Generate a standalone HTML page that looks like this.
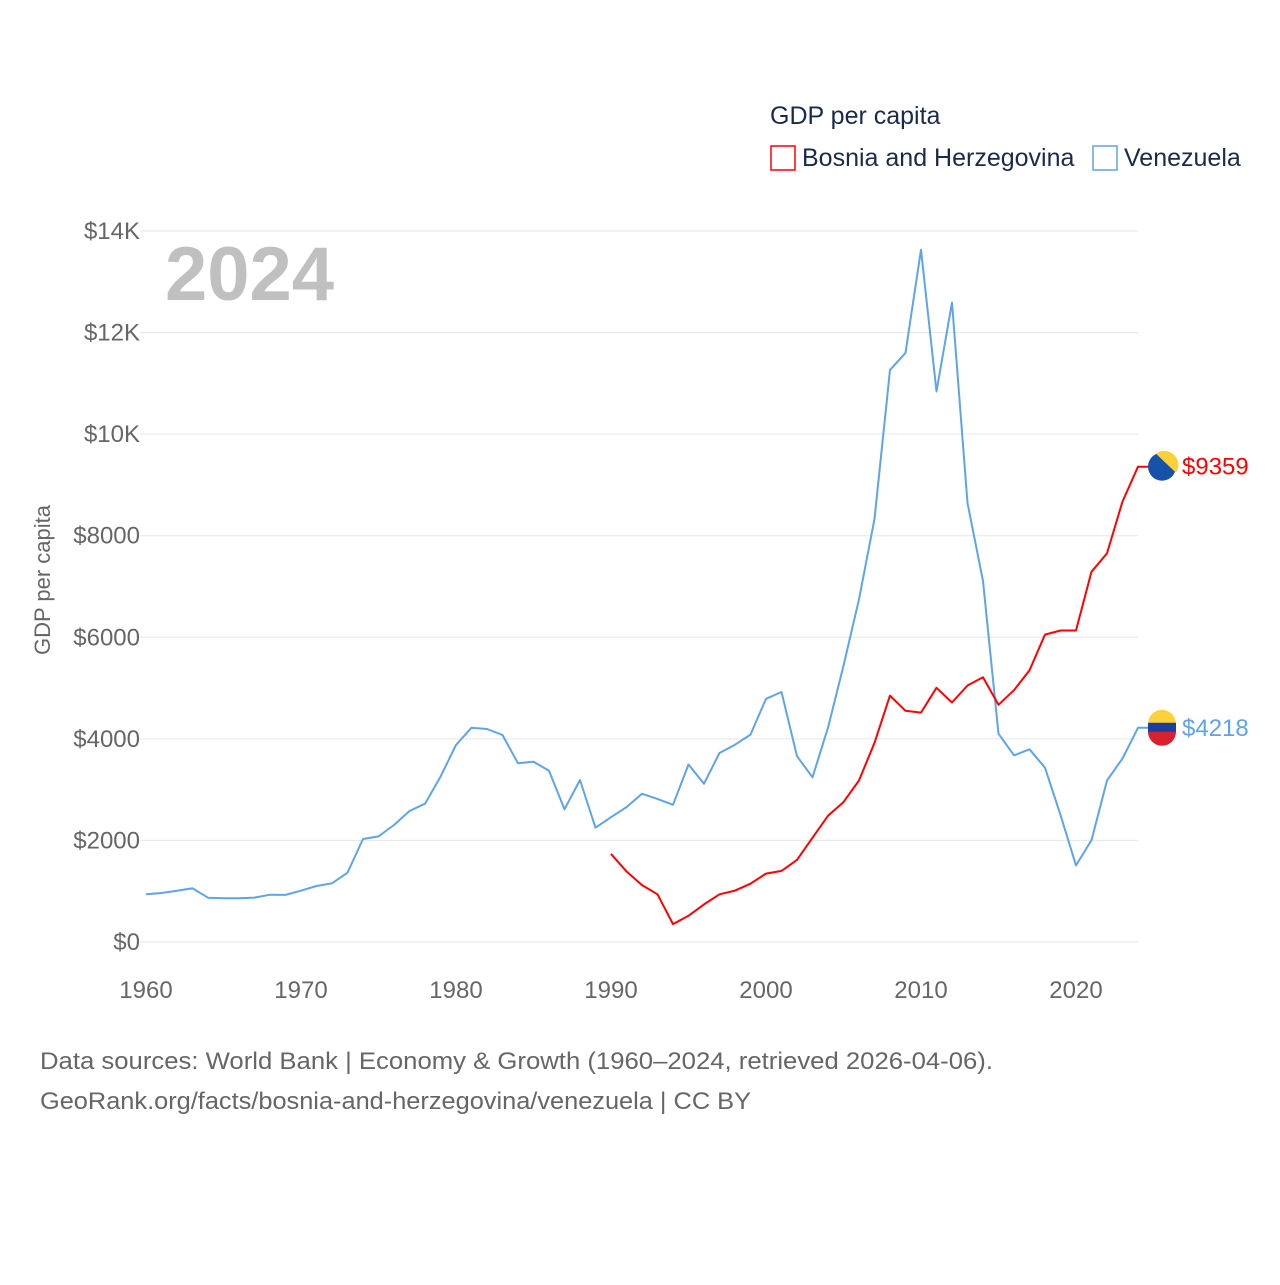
<!DOCTYPE html>
<html><head><meta charset="utf-8"><style>
body{margin:0;background:#fff;font-family:"Liberation Sans",sans-serif;}
svg text{font-family:"Liberation Sans",sans-serif;}
</style></head><body>
<svg id="chart" width="1280" height="1280" viewBox="0 0 1280 1280">
<g id="grid"></g>
<g id="yticks"></g>
<g id="xticks"></g>
<text x="165" y="300" font-size="76" font-weight="bold" fill="#c0c0c0">2024</text>
<text transform="translate(50,580) rotate(-90)" text-anchor="middle" font-size="22" fill="#666">GDP per capita</text>
<g id="series"></g>
<g>
<text x="770" y="124" font-size="25" fill="#1a2a4a">GDP per capita</text>
<rect x="771" y="146" width="24" height="24" fill="none" stroke="#ff0000" stroke-width="1.5"/>
<text x="802" y="166" font-size="25" fill="#1a2a4a">Bosnia and Herzegovina</text>
<rect x="1093" y="146" width="24" height="24" fill="none" stroke="#5ea4e8" stroke-width="1.5"/>
<text x="1124" y="166" font-size="25" fill="#1a2a4a">Venezuela</text>
</g>
<text x="40" y="1069" font-size="24" fill="#666" textLength="953" lengthAdjust="spacingAndGlyphs">Data sources: World Bank | Economy &amp; Growth (1960–2024, retrieved 2026-04-06).</text>
<text x="40" y="1109" font-size="24" fill="#666" textLength="711" lengthAdjust="spacingAndGlyphs">GeoRank.org/facts/bosnia-and-herzegovina/venezuela | CC BY</text>
</svg>
<script>
const venYears=[];for(let y=1960;y<=2024;y++)venYears.push(y);
const venValues=[939,965,1010,1057,873,860,862,875,932,928,1010,1103,1155,1365,2028,2080,2303,2579,2723,3255,3879,4220,4194,4076,3518,3550,3373,2612,3190,2251,2457,2656,2918,2818,2701,3496,3117,3722,3884,4083,4788,4923,3659,3243,4219,5438,6748,8329,11265,11599,13631,10840,12593,8645,7109,4101,3677,3794,3433,2502,1509,2005,3180,3613,4218];
const bihYears=[];for(let y=1990;y<=2024;y++)bihYears.push(y);
const bihValues=[1734,1391,1120,939,352,515,741,939,1012,1147,1346,1400,1617,2051,2484,2755,3180,3920,4851,4553,4517,5005,4715,5050,5212,4670,4959,5348,6052,6134,6134,7290,7651,8672,9359];
const yTicks=[0,2000,4000,6000,8000,10000,12000,14000];
const yTickLabels=["$0","$2000","$4000","$6000","$8000","$10K","$12K","$14K"];
const xTicks=[1960,1970,1980,1990,2000,2010,2020];
const NS="http://www.w3.org/2000/svg";
const X=yr=>146+(yr-1960)*15.5;
const Y=v=>942-v*(711/14000);
function mk(tag,attrs,parent){const e=document.createElementNS(NS,tag);for(const k in attrs)e.setAttribute(k,attrs[k]);parent.appendChild(e);return e;}
const grid=document.getElementById('grid'),yt=document.getElementById('yticks'),xt=document.getElementById('xticks'),ser=document.getElementById('series');
yTicks.forEach((v,i)=>{
const l=mk('line',{x1:140,x2:1138,y1:Y(v),y2:Y(v),stroke:'#e6e6e6','stroke-width':1},grid);


const t=mk('text',{x:140,y:Y(v)+8,'text-anchor':'end','font-size':24,fill:'#666'},yt);
t.textContent=yTickLabels[i];


});
xTicks.forEach(yr=>{
const t=mk('text',{x:X(yr),y:998,'text-anchor':'middle','font-size':24,fill:'#666'},xt);
t.textContent=yr;


});
function line(years,vals,color,name,label,flag){
const d=years.map((y,i)=>(i?'L':'M')+X(y).toFixed(1)+' '+Y(vals[i]).toFixed(1)).join(' ');
const lastY=Y(vals[vals.length-1]);
const p=mk('path',{d:d+' L1148 '+lastY.toFixed(1),fill:'none',stroke:color,'stroke-width':2,'stroke-linejoin':'round'},ser);


const g=mk('g',{},ser);


if(flag==='ba'){
mk('circle',{cx:1162,cy:lastY,r:14,fill:'#1552a8'},g);
mk('path',{d:`M${1162-6} ${lastY-13} L${1162+14} ${lastY+6} A14 14 0 0 0 ${1162-6} ${lastY-13}Z`,fill:'#fdd13a'},g);
}else{
mk('path',{d:`M1148 ${lastY-4} A14 14 0 0 1 1176 ${lastY-4}Z`,fill:'#fdd13a'},g);
mk('rect',{x:1148,y:lastY-5,width:28,height:10,fill:'#1a3f9c'},g);
mk('path',{d:`M1148 ${lastY+4} A14 14 0 0 0 1176 ${lastY+4}Z`,fill:'#d9202e'},g);
}
const t=mk('text',{x:1182,y:lastY+8,'font-size':24,fill:color},ser);
t.textContent=label;


}
line(venYears,venValues,'#5ea4e8','venezuela','$'+venValues[venValues.length-1],'ve');
line(bihYears,bihValues,'#ff0000','bosnia','$'+bihValues[bihValues.length-1],'ba');
</script>
</body></html>
